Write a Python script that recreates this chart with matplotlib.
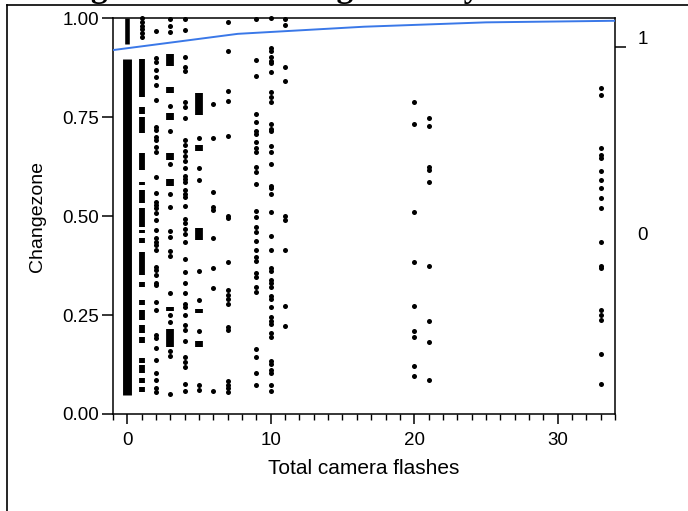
import matplotlib
matplotlib.use("Agg")
import matplotlib.pyplot as plt
from matplotlib.lines import Line2D
from matplotlib.ticker import MultipleLocator, FixedLocator

# ---- data ------------------------------------------------------------------
title = "Logistic Fit of Changezone By Total camera flashes"
x_label = "Total camera flashes"
y_label = "Changezone"

# single jittered points per flash count
points = {
    1: [1.0, 0.99, 0.98, 0.972, 0.962, 0.951],
    2: [0.968, 0.898, 0.890, 0.869, 0.852, 0.831, 0.793, 0.726, 0.717, 0.700,
        0.692, 0.675, 0.662, 0.599, 0.557, 0.536, 0.528, 0.520, 0.507, 0.490,
        0.465, 0.444, 0.435, 0.427, 0.414, 0.372, 0.364, 0.351, 0.330, 0.326,
        0.284, 0.263, 0.199, 0.191, 0.166, 0.136, 0.103, 0.086, 0.065, 0.056],
    3: [0.998, 0.98, 0.965, 0.778, 0.715, 0.631, 0.556, 0.522, 0.461, 0.446,
        0.412, 0.40, 0.305, 0.25, 0.233, 0.16, 0.147, 0.05],
    4: [0.997, 0.970, 0.902, 0.877, 0.867, 0.787, 0.775, 0.747, 0.692, 0.680,
        0.665, 0.652, 0.640, 0.621, 0.602, 0.593, 0.585, 0.566, 0.556, 0.547,
        0.526, 0.492, 0.482, 0.467, 0.455, 0.434, 0.391, 0.358, 0.330, 0.305,
        0.278, 0.270, 0.249, 0.226, 0.211, 0.185, 0.143, 0.131, 0.119, 0.076,
        0.059],
    5: [0.697, 0.621, 0.591, 0.361, 0.288, 0.21, 0.073, 0.06],
    6: [0.783, 0.697, 0.560, 0.522, 0.514, 0.444, 0.369, 0.318, 0.057],
    7: [0.989, 0.917, 0.816, 0.791, 0.701, 0.501, 0.495, 0.383, 0.313, 0.301,
        0.290, 0.279, 0.219, 0.212, 0.084, 0.074, 0.066, 0.055],
    9: [0.998, 0.894, 0.853, 0.758, 0.737, 0.714, 0.707, 0.688, 0.672, 0.661,
        0.623, 0.610, 0.581, 0.513, 0.497, 0.471, 0.459, 0.438, 0.414, 0.397,
        0.387, 0.355, 0.345, 0.320, 0.307, 0.164, 0.143, 0.103, 0.074],
    10: [1.0, 0.924, 0.916, 0.901, 0.892, 0.886, 0.863, 0.812, 0.801, 0.787,
         0.732, 0.720, 0.714, 0.678, 0.662, 0.631, 0.577, 0.571, 0.556, 0.511,
         0.450, 0.414, 0.369, 0.360, 0.338, 0.330, 0.320, 0.299, 0.290, 0.269,
         0.244, 0.236, 0.227, 0.204, 0.194, 0.135, 0.126, 0.111, 0.103, 0.074,
         0.057],
    11: [0.998, 0.983, 0.877, 0.842, 0.501, 0.490, 0.414, 0.273, 0.223],
    20: [0.787, 0.732, 0.509, 0.384, 0.273, 0.209, 0.194, 0.122, 0.097],
    21: [0.747, 0.727, 0.625, 0.615, 0.585, 0.374, 0.234, 0.183, 0.086],
    33: [0.823, 0.806, 0.672, 0.655, 0.646, 0.613, 0.592, 0.571, 0.545, 0.520,
         0.434, 0.374, 0.369, 0.263, 0.250, 0.237, 0.152, 0.076],
}

# runs of overlapping points that merge into solid bars: (x, low, high)
dense_runs = [
    (0, 0.935, 1.0), (0, 0.048, 0.896),
    (1, 0.80, 0.896), (1, 0.758, 0.775), (1, 0.71, 0.75), (1, 0.616, 0.66),
    (1, 0.578, 0.586), (1, 0.533, 0.566), (1, 0.472, 0.52), (1, 0.457, 0.465),
    (1, 0.432, 0.444), (1, 0.35, 0.41), (1, 0.321, 0.333), (1, 0.275, 0.288),
    (1, 0.237, 0.263), (1, 0.205, 0.225), (1, 0.179, 0.194), (1, 0.129, 0.141),
    (1, 0.104, 0.124), (1, 0.078, 0.091), (1, 0.056, 0.068),
    (3, 0.88, 0.91), (3, 0.81, 0.826), (3, 0.742, 0.76), (3, 0.641, 0.658),
    (3, 0.576, 0.593), (3, 0.26, 0.27), (3, 0.17, 0.215),
    (5, 0.755, 0.81), (5, 0.664, 0.68), (5, 0.44, 0.47), (5, 0.255, 0.265),
    (5, 0.17, 0.185),
]

# fitted logistic curve (as drawn, piecewise)
curve_x = [-1, 7.7, 16.5, 25, 34]
curve_y = [0.919, 0.960, 0.978, 0.989, 0.993]

# right axis: response levels
level_boundary = 0.928
level_names = ["0", "1"]
level_pos = [0.457, 0.952]

# ---- figure -----------------------------------------------------------------
W, H = 688, 511
fig = plt.figure(figsize=(W / 100, H / 100), dpi=100)
plt.rcParams["font.family"] = ["Liberation Sans", "DejaVu Sans"]

ax = fig.add_axes([113 / W, 1 - 414 / H, (615 - 113) / W, (414 - 18) / H])
ax.set_xlim(-1, 34)
ax.set_ylim(0, 1)


def run_width(x, lo):
    # the stack at 0 flashes is wider than the others; its top part thinner
    if x == 0:
        return 3.3 if lo > 0.9 else 6.4
    return 4.2 if x == 1 else 5.6


for x, lo, hi in dense_runs:
    ax.vlines(x, lo, hi, color="black", linewidth=run_width(x, lo),
              zorder=3, clip_on=False)
for x, ys in points.items():
    ax.scatter([x] * len(ys), ys, s=13, color="black", linewidths=0,
               zorder=3, clip_on=False)

ax.plot(curve_x, curve_y, color="#3a78e8", linewidth=1.4, zorder=4)

for side in ax.spines.values():
    side.set_linewidth(1.1)

ax.xaxis.set_major_locator(FixedLocator([0, 10, 20, 30]))
ax.xaxis.set_minor_locator(MultipleLocator(1))
ax.yaxis.set_major_locator(FixedLocator([0, 0.25, 0.5, 0.75, 1.0]))
ax.set_yticklabels(["0.00", "0.25", "0.50", "0.75", "1.00"])
ax.tick_params(axis="x", which="major", length=7, width=1.1, labelsize=13.5, pad=6)
ax.tick_params(axis="x", which="minor", length=4, width=1.0)
ax.tick_params(axis="y", which="major", length=8, width=1.1, labelsize=13.5, pad=2)

ax.set_xlabel(x_label, fontsize=15, labelpad=7)
ax.set_ylabel(y_label, fontsize=14, labelpad=12)

ax2 = ax.twinx()
ax2.set_ylim(0, 1)
ax2.yaxis.set_major_locator(FixedLocator([level_boundary]))
ax2.yaxis.set_major_formatter(plt.NullFormatter())
ax2.yaxis.set_minor_locator(FixedLocator(level_pos))
ax2.set_yticklabels(level_names, minor=True)
ax2.tick_params(axis="y", which="major", length=8, width=1.1)
ax2.tick_params(axis="y", which="minor", length=0, labelsize=13.5, pad=16)
for side in ax2.spines.values():
    side.set_visible(False)

# outline box and the report title, clipped by the top edge as in the source
fig.add_artist(Line2D([7 / W, 1], [1 - 5 / H] * 2, color="black", linewidth=1.2))
fig.add_artist(Line2D([7 / W] * 2, [0, 1 - 5 / H], color="black", linewidth=1.2))
fig.text(52 / W, 1 - 4 / H, title, fontsize=24, fontweight="bold",
         family=["Liberation Serif"], va="bottom", ha="left")

fig.savefig("out.png", dpi=100)
